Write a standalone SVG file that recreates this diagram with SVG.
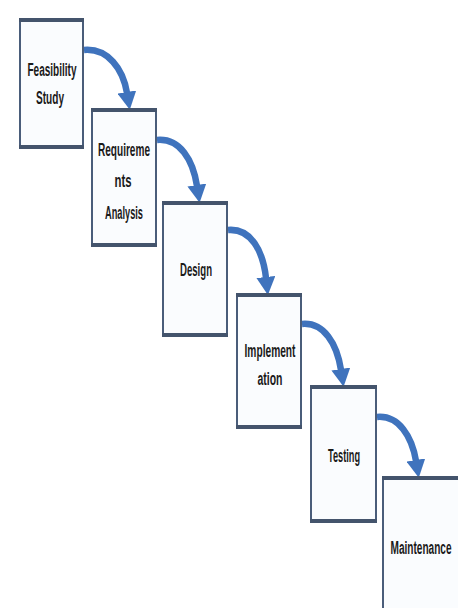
<svg xmlns="http://www.w3.org/2000/svg" width="458" height="608" viewBox="0 0 458 608">
  <defs>
    <marker id="ah" markerUnits="userSpaceOnUse" markerWidth="19" markerHeight="19" refX="1" refY="9.5" orient="auto" viewBox="0 0 19 19">
      <path d="M0,0 L18,9.5 L0,19 z" fill="#3f73bd"/>
    </marker>
    <style>
      .box { fill: #fafcfe; stroke: #4a5d7a; stroke-width: 2; }
      .edge { stroke: #44546c; stroke-width: 4; }
      .lbl { font-family: "Liberation Sans Narrow", "Liberation Sans", Arial, sans-serif; font-weight: bold; font-size: 18px; fill: #1a1a1a; text-anchor: middle; }
      .arr { fill: none; stroke: #3f73bd; stroke-width: 6.5; stroke-linecap: butt; marker-end: url(#ah); }
    </style>
  </defs>
  <rect width="458" height="608" fill="#ffffff"/>

  <g id="connectors">
    <path class="arr" d="M84 50 C108 48, 123 69, 127 93"/>
    <path class="arr" d="M157 140 C180 138, 193 160, 197 186"/>
    <path class="arr" d="M228 230 C251 228, 263 251, 266 278"/>
    <path class="arr" d="M302 324 C324 322, 337 344, 341 370"/>
    <path class="arr" d="M377 417 C399 415, 412 437, 416 461"/>
  </g>

  <g id="feasibility">
    <rect class="box" x="20" y="20" width="63" height="127"/>
    <line class="edge" x1="19" y1="20" x2="84" y2="20"/>
    <line class="edge" x1="19" y1="147" x2="84" y2="147"/>
    <text class="lbl" x="52" y="76" textLength="49" lengthAdjust="spacingAndGlyphs">Feasibility</text>
    <text class="lbl" x="50" y="104" textLength="28" lengthAdjust="spacingAndGlyphs">Study</text>
  </g>

  <g id="requirements">
    <rect class="box" x="92" y="110" width="64" height="135"/>
    <line class="edge" x1="91" y1="110" x2="157" y2="110"/>
    <line class="edge" x1="91" y1="245" x2="157" y2="245"/>
    <text class="lbl" x="124" y="156" textLength="52" lengthAdjust="spacingAndGlyphs">Requireme</text>
    <text class="lbl" x="123" y="187" textLength="17" lengthAdjust="spacingAndGlyphs">nts</text>
    <text class="lbl" x="124" y="219" textLength="38" lengthAdjust="spacingAndGlyphs">Analysis</text>
  </g>

  <g id="design">
    <rect class="box" x="163" y="203" width="64" height="132"/>
    <line class="edge" x1="162" y1="203" x2="228" y2="203"/>
    <line class="edge" x1="162" y1="335" x2="228" y2="335"/>
    <text class="lbl" x="196" y="276" textLength="32" lengthAdjust="spacingAndGlyphs">Design</text>
  </g>

  <g id="implementation">
    <rect class="box" x="237" y="295" width="64" height="132"/>
    <line class="edge" x1="236" y1="295" x2="302" y2="295"/>
    <line class="edge" x1="236" y1="427" x2="302" y2="427"/>
    <text class="lbl" x="270" y="357" textLength="51" lengthAdjust="spacingAndGlyphs">Implement</text>
    <text class="lbl" x="270" y="385" textLength="25" lengthAdjust="spacingAndGlyphs">ation</text>
  </g>

  <g id="testing">
    <rect class="box" x="311" y="387" width="65" height="134"/>
    <line class="edge" x1="310" y1="387" x2="377" y2="387"/>
    <line class="edge" x1="310" y1="521" x2="377" y2="521"/>
    <text class="lbl" x="344" y="462" textLength="32" lengthAdjust="spacingAndGlyphs">Testing</text>
  </g>

  <g id="maintenance">
    <rect x="383" y="478" width="75" height="130" fill="#fafcfe"/>
    <line x1="383" y1="478" x2="383" y2="608" stroke="#4a5d7a" stroke-width="2"/>
    <line class="edge" x1="382" y1="478" x2="458" y2="478"/>
    <text class="lbl" x="421" y="554" textLength="61" lengthAdjust="spacingAndGlyphs">Maintenance</text>
  </g>
</svg>
